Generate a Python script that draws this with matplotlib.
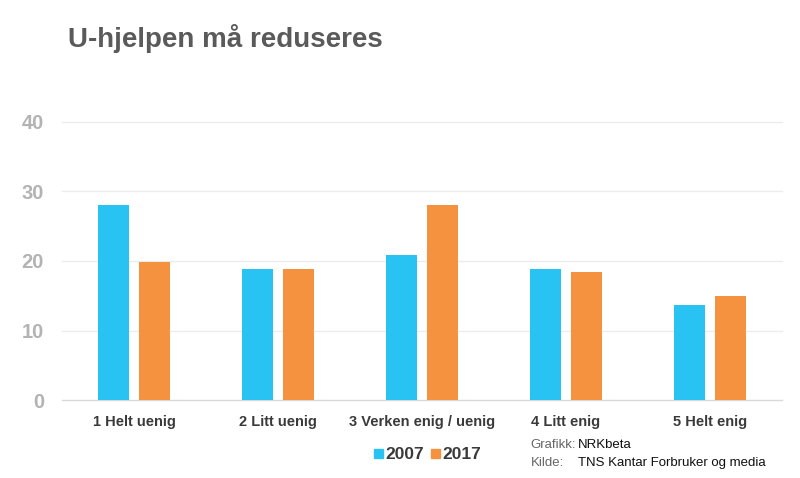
import numpy as np
import matplotlib.pyplot as plt
from matplotlib.patches import Rectangle

categories = ['1 Helt uenig', '2 Litt uenig', '3 Verken enig / uenig', '4 Litt enig', '5 Helt enig']
values_2007 = [28.0, 18.8, 20.9, 18.8, 13.6]
values_2017 = [19.8, 18.8, 28.1, 18.4, 15.0]
series_labels = ['2007', '2017']
yticks = [0, 10, 20, 30, 40]

BLUE = '#29c3f3'
ORANGE = '#f59240'

plt.rcParams['font.family'] = ['Liberation Sans', 'DejaVu Sans']

fig = plt.figure(figsize=(8, 4.78), dpi=100)
ax = fig.add_axes([0.0775, 0.163, 0.9, 0.582])

x = np.arange(len(categories))
w = 0.22
off = 0.142
ax.bar(x - off, values_2007, width=w, color=BLUE, zorder=3)
ax.bar(x + off, values_2017, width=w, color=ORANGE, zorder=3)

ax.set_xlim(-0.5, len(categories) - 0.5)
ax.set_ylim(0, 40)
ax.set_yticks(yticks)
ax.set_yticklabels([str(t) for t in yticks], color='#b3b3b3', fontsize=14.5, fontweight='bold')
ax.set_xticks(x)
ax.set_xticklabels(categories, color='#3a3a3a', fontsize=10.5, fontweight='bold')
ax.tick_params(axis='both', length=0)
ax.tick_params(axis='y', pad=13)
ax.tick_params(axis='x', pad=11)

for t in yticks:
    ax.axhline(t, color='#d9d9d9' if t == 0 else '#ececec', lw=1, zorder=1, clip_on=False)
for s in ax.spines.values():
    s.set_visible(False)

fig.text(0.085, 0.92, 'U-hjelpen må reduseres', fontsize=20, fontweight='bold',
         color='#5a5a5a', va='center', ha='left')

# legend
for i, (lab, col) in enumerate(zip(series_labels, [BLUE, ORANGE])):
    x0 = 0.4675 + i * 0.071
    fig.patches.append(Rectangle((x0, 0.041), 0.0115, 0.019, transform=fig.transFigure,
                                 color=col, figure=fig))
    fig.text(x0 + 0.0145, 0.05, lab, fontsize=12.5, fontweight='bold', color='#3a3a3a', va='center')

fig.text(0.663, 0.069, 'Grafikk:', fontsize=9.5, color='#666666', va='center')
fig.text(0.722, 0.069, 'NRKbeta', fontsize=9.5, color='#111111', va='center')
fig.text(0.663, 0.031, 'Kilde:', fontsize=9.5, color='#666666', va='center')
fig.text(0.722, 0.031, 'TNS Kantar Forbruker og media', fontsize=9.5, color='#111111', va='center')

fig.savefig('out.png', dpi=100)
